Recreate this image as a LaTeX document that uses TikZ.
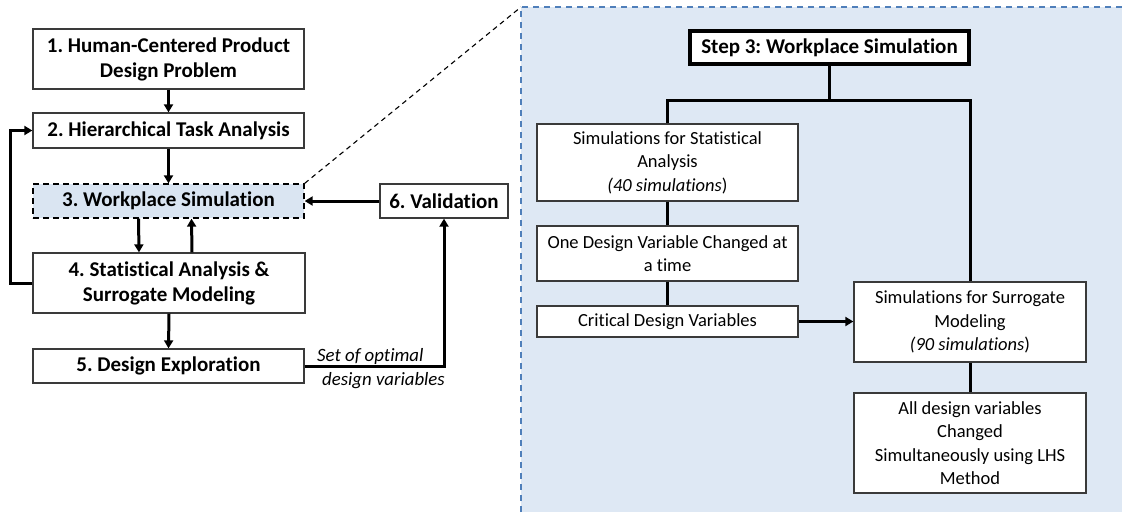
\documentclass[tikz,border=0pt]{standalone}
\usepackage{fontspec}
\setmainfont{Carlito}[RawFeature={-liga;-clig;-calt;-dlig;-rlig}]
\usetikzlibrary{arrows.meta}
\definecolor{panelfill}{HTML}{DEE8F4}
\definecolor{panelline}{HTML}{4F7FBA}
\definecolor{boxline}{HTML}{3A3A3A}
\definecolor{hlfill}{HTML}{DAE5F2}
\tikzset{
  lbox/.style={draw=boxline, line width=1.3pt, fill=white, align=center, inner sep=0pt,
    font=\fontsize{21}{25}\selectfont\bfseries},
  rbox/.style={draw=boxline, line width=1.3pt, fill=white, align=center, inner sep=0pt,
    font=\fontsize{18.5}{23.5}\selectfont},
  arr/.style={line width=3pt, -{Triangle[length=8pt,width=9pt]}},
  conn/.style={line width=3pt},
  lbl/.style={font=\fontsize{18.8}{22}\selectfont\itshape, inner sep=0pt, anchor=base west}
}
\begin{document}
\frenchspacing
\begin{tikzpicture}[x=1pt,y=-1pt]
\useasboundingbox (0,0) rectangle (1122,512);
% panel
\fill[panelfill] (521,7) rectangle (1122,512);
\draw[panelline, line width=1.6pt, dash pattern=on 6pt off 5pt] (521,512) -- (521,7) -- (1122,7);
\coordinate (ptl) at (521,7);
% left column
\node[lbox, minimum width=271pt, minimum height=60pt] (n1) at (168.5,59) {1. Human-Centered Product\\Design Problem};
\node[lbox, minimum width=271pt, minimum height=35pt] (n2) at (168.5,130.5) {2. Hierarchical Task Analysis};
\node[lbox, minimum width=271pt, minimum height=34pt, fill=hlfill, draw=black, dash pattern=on 6pt off 4pt] (n3) at (168.5,201) {3. Workplace Simulation};
\node[lbox, minimum width=128pt, minimum height=34pt] (n6) at (444,201) {6. Validation};
\node[lbox, minimum width=272pt, minimum height=60pt] (n4) at (169,283) {4. Statistical Analysis \&\\Surrogate Modeling};
\node[lbox, minimum width=271pt, minimum height=34pt] (n5) at (168.5,366) {5. Design Exploration};
\node[lbl] (l1) at (317,361) {Set of optimal};
\node[lbl] (l2) at (322,385) {design variables};
\draw[arr] (n1.south) -- (n2.north);
\draw[arr] (n2.south) -- (n3.north);
\draw[arr] ([xshift=-30pt]n3.south) -- ([xshift=-30pt]n4.north);
\draw[arr] ([xshift=23pt]n4.north) -- ([xshift=23pt]n3.south);
\draw[arr] (n4.south) -- (n5.north);
\draw[arr] (n4.west) -- ++(-22,0) |- (n2.west);
\draw[arr] (n6.west) -- (n3.east);
\draw[arr] (n5.east) -| (n6.south);
\draw[line width=1.1pt, dash pattern=on 5pt off 4pt] (n3.north east) -- (ptl);
% right panel
\node[rbox, draw=black, line width=4.5pt, minimum width=279pt, minimum height=33pt, font=\fontsize{21}{25}\selectfont\bfseries] (s3) at (829.5,47.5) {Step 3: Workplace Simulation};
\node[rbox, minimum width=261pt, minimum height=77pt] (a) at (667.5,162.5) {Simulations for Statistical\\Analysis\\\textit{(40 simulations})};
\node[rbox, minimum width=261pt, minimum height=55pt] (b) at (667.5,253.5) {One Design Variable Changed at\\a time};
\node[rbox, minimum width=261pt, minimum height=31pt] (c) at (667.5,321.5) {Critical Design Variables};
\node[rbox, minimum width=232pt, minimum height=80pt] (d) at (970,322) {Simulations for Surrogate\\Modeling\\\textit{(90 simulations})};
\node[rbox, minimum width=232pt, minimum height=100pt] (e) at (970,443) {All design variables\\Changed\\Simultaneously using LHS\\Method};
\coordinate (j) at (829.5,100);
\draw[conn] (s3.south) -- (j);
\draw[conn] (a.north) |- (j) -| (d.north);
\draw[conn] (a.south) -- (b.north);
\draw[conn] (b.south) -- (c.north);
\draw[arr] (c.east) -- (c.east -| d.west);
\draw[conn] (d.south) -- (e.north);
\end{tikzpicture}
\end{document}
